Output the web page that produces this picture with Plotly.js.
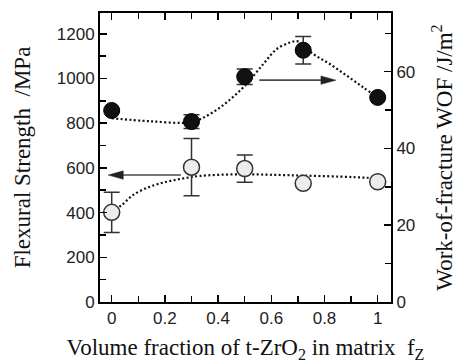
<!DOCTYPE html>
<html><head><meta charset="utf-8">
<script src="https://cdn.plot.ly/plotly-3.0.1.min.js"></script>
<style>html,body{margin:0;padding:0;background:#fff}#chart{width:457px;height:363px}</style>
</head><body><div id="chart"></div>
<script>
// Measured data (volume fraction of t-ZrO2 in matrix)
var fz = [0, 0.3, 0.5, 0.72, 1.0];
var strength = [401, 603, 597, 531, 538];        // MPa (open circles, left axis)
var strengthErr = [90, 128, 61, 0, 0];
var wof = [49.9, 47.0, 58.7, 65.6, 53.3];         // J/m^2 (filled circles, right axis)
var wofErr = [0, 1.8, 2.0, 3.6, 0];

// Guide curves (dotted)
var strengthFitX = [0, 0.038, 0.081, 0.144, 0.207, 0.269, 0.332, 0.457, 0.532, 0.67, 0.858, 0.959, 1.0];
var strengthFitY = [405, 434, 479, 516, 538, 553, 564, 571, 571, 567, 561, 556, 554];
var wofFitX = [0, 0.144, 0.3, 0.37, 0.432, 0.5, 0.57, 0.62, 0.67, 0.70, 0.758, 0.82, 0.883, 0.946, 1.0];
var wofFitY = [47.9, 47.1, 46.9, 49.0, 52.0, 56.3, 62.0, 65.9, 67.6, 67.9, 64.6, 62.0, 59.0, 55.9, 53.3];

// Arrows indicating the axis of each series: [from x, to x, level]
var arrowStrength = [0.26, -0.013, 568];
var arrowWof = [0.555, 0.843, 57.8];

var xRange = [-0.044, 1.05];
var plotW = 457 - 100 - 66;
var pxPerX = plotW / (xRange[1] - xRange[0]);
var headLen = 15, headHalf = 4.2;

function arrowShapes(a, yref) {
  var dir = a[1] < a[0] ? -1 : 1;
  var shaftEnd = a[1] - dir * (headLen - 1) / pxPerX;
  return [
    {type: 'line', xref: 'x', yref: yref, x0: a[0], x1: shaftEnd, y0: a[2], y1: a[2],
     line: {color: '#4a4a4a', width: 1.6}},
    {type: 'path', xref: 'x', yref: yref, xsizemode: 'pixel', ysizemode: 'pixel',
     xanchor: a[1], yanchor: a[2],
     path: 'M0,0 L' + (-dir * headLen) + ',' + headHalf + ' L' + (-dir * headLen) + ',' + (-headHalf) + ' Z',
     fillcolor: '#222', line: {color: '#222', width: 0.5}}
  ];
}

var traces = [
  {x: strengthFitX, y: strengthFitY, mode: 'lines', yaxis: 'y', hoverinfo: 'skip',
   line: {shape: 'spline', smoothing: 1, color: '#111', width: 2.2, dash: '2px,2.4px'}},
  {x: wofFitX, y: wofFitY, mode: 'lines', yaxis: 'y2', hoverinfo: 'skip',
   line: {shape: 'spline', smoothing: 1, color: '#111', width: 2.2, dash: '2px,2.4px'}},
  {x: fz, y: strength, mode: 'markers', yaxis: 'y',
   error_y: {type: 'data', array: strengthErr, visible: true, color: '#333', thickness: 1.5, width: 8},
   marker: {size: 16, color: '#ececec', line: {color: '#333', width: 1.5}}},
  {x: fz, y: wof, mode: 'markers', yaxis: 'y2',
   error_y: {type: 'data', array: wofErr, visible: true, color: '#333', thickness: 1.5, width: 8},
   marker: {size: 16, color: '#111', line: {color: '#000', width: 1}}}
];

var tickFont = {family: 'Liberation Sans, Arial, sans-serif', size: 17, color: '#222'};
var titleFont = {family: 'Liberation Serif, Times New Roman, serif', size: 23, color: '#111'};

var layout = {
  width: 457, height: 363,
  margin: {l: 100, r: 66, t: 13, b: 61, pad: 0},
  paper_bgcolor: '#fff', plot_bgcolor: '#fff',
  showlegend: false,
  xaxis: {
    range: xRange, tick0: 0, dtick: 0.2, ticks: 'inside', ticklen: 7, tickwidth: 1.5, tickcolor: '#000',
    showline: true, linewidth: 2, linecolor: '#000', mirror: 'ticks', showgrid: false, zeroline: false,
    minor: {dtick: 0.1, ticks: 'inside', ticklen: 6, tickwidth: 1.5, tickcolor: '#000', showgrid: false},
    tickfont: tickFont,
    title: {text: '\u00a0\u00a0Volume fraction of t-ZrO<sub>2</sub> in matrix\u00a0\u00a0f<sub>Z</sub>', font: titleFont, standoff: 17}
  },
  yaxis: {
    range: [0, 1293], tick0: 0, dtick: 200, ticks: 'inside', ticklen: 7, tickwidth: 1.5, tickcolor: '#000',
    showline: true, linewidth: 2, linecolor: '#000', showgrid: false, zeroline: false,
    minor: {dtick: 100, ticks: 'inside', ticklen: 6, tickwidth: 1.5, tickcolor: '#000', showgrid: false},
    tickfont: tickFont,
    title: {text: 'Flexural Strength\u00a0\u00a0/MPa', font: titleFont, standoff: 20}
  },
  yaxis2: {
    overlaying: 'y', side: 'right', anchor: 'x',
    range: [0, 75.3], tick0: 0, dtick: 20, ticks: 'inside', ticklen: 7, tickwidth: 1.5, tickcolor: '#000',
    showline: true, linewidth: 2, linecolor: '#000', showgrid: false, zeroline: false,
    minor: {dtick: 10, ticks: 'inside', ticklen: 6, tickwidth: 1.5, tickcolor: '#000', showgrid: false},
    tickfont: tickFont,
    title: {text: 'Work-of-fracture WOF /J/m<sup>2</sup>', font: titleFont, standoff: 22}
  },
  shapes: arrowShapes(arrowStrength, 'y').concat(arrowShapes(arrowWof, 'y2'))
};

Plotly.newPlot('chart', traces, layout, {displayModeBar: false, staticPlot: true});
</script>
</body></html>
